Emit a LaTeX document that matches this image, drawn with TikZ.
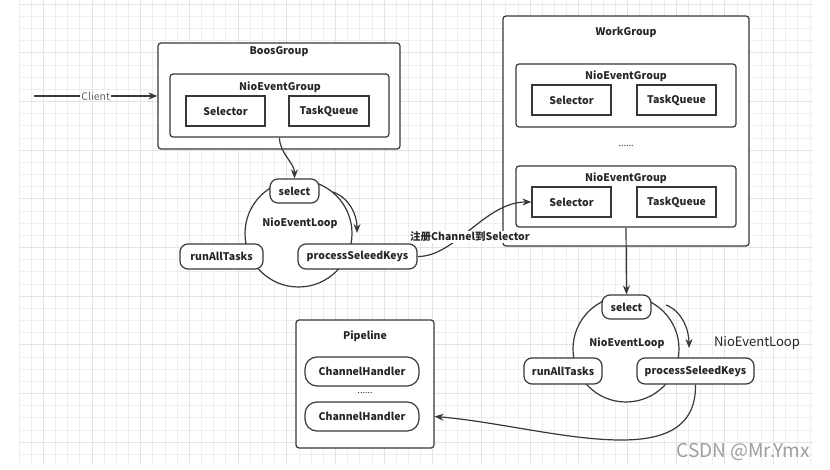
\documentclass[tikz,border=0pt]{standalone}
\usepackage{fontspec}
\setmainfont{Noto Sans CJK SC}
\usetikzlibrary{arrows.meta}
\newcommand\lblfont{\fontsize{10.5}{12}\selectfont\bfseries}
\tikzset{
  ln/.style={draw=black!78, line width=1.2pt},
  grp/.style={ln, rectangle, rounded corners=3pt, fill=white, inner sep=0pt},
  cell/.style={ln, rectangle, fill=white, inner sep=0pt, font=\lblfont, text=black!85},
  pill/.style={ln, rectangle, rounded corners=8pt, fill=white, inner sep=0pt, font=\lblfont, text=black!85},
  ttl/.style={font=\lblfont, inner sep=0pt, text=black!85},
  loopc/.style={ln, circle, fill=white, inner sep=0pt},
  arr/.style={draw=black!78, line width=1.2pt, -{Stealth[length=9pt,width=7pt]}},
  gridlight/.style={draw=gray!13, line width=0.8pt},
  griddark/.style={draw=gray!22, line width=0.8pt},
}
\begin{document}
\begin{tikzpicture}[x=1pt,y=-1pt]
\useasboundingbox (0,0) rectangle (830,470);
\fill[white] (0,0) rectangle (830,470);
% background grid
\begin{scope}
  \clip (19,0) rectangle (813,463);
  \foreach \i in {0,...,66} \draw[gridlight] ({19+12.17*\i},0) -- ++(0,470);
  \foreach \i in {0,...,38} \draw[gridlight] (0,{4.1+12.17*\i}) -- ++(830,0);
  \foreach \i in {0,...,16} \draw[griddark] ({43.3+48.68*\i},0) -- ++(0,470);
  \foreach \i in {0,...,9} \draw[griddark] (0,{4.1+48.68*\i}) -- ++(830,0);
\end{scope}

% BoosGroup
\node[grp, minimum width=242, minimum height=106] (boos) at (279,96) {};
\node[ttl] (boost) at (279,52) {BoosGroup};
\node[grp, minimum width=219, minimum height=63] (boosin) at (279.5,105.5) {};
\node[ttl] (boosint) at (280,87) {NioEventGroup};
\node[cell, minimum width=79, minimum height=30] (bsel) at (225.5,111) {Selector};
\node[cell, minimum width=80, minimum height=30] (btq) at (329,111) {TaskQueue};

% Client
\coordinate (client) at (34,96);

% Loop 1
\node[loopc, minimum size=107] (loop1) at (298.5,233.5) {};
\node[ttl] (loop1t) at (300,223) {NioEventLoop};
\node[pill, minimum width=49, minimum height=24] (sel1) at (294.5,191) {select};
\node[pill, minimum width=83, minimum height=25] (run1) at (221.5,256.5) {runAllTasks};
\node[pill, minimum width=119, minimum height=25] (proc1) at (357.5,256.5) {processSeleedKeys};
\coordinate (c1a) at (333,192);
\coordinate (c1b) at (357,233);

% WorkGroup
\node[grp, minimum width=246, minimum height=230] (work) at (626,131) {};
\node[ttl] (workt) at (626,32) {WorkGroup};
\node[grp, minimum width=220, minimum height=63] (win1) at (626,95.5) {};
\node[ttl] (win1t) at (626,76) {NioEventGroup};
\node[cell, minimum width=79, minimum height=30] (wsel1) at (571.5,100) {Selector};
\node[cell, minimum width=79, minimum height=30] (wtq1) at (676.5,100) {TaskQueue};
\node[ttl, font=\fontsize{9}{10}\selectfont] (wdots) at (626,146) {......};
\node[grp, minimum width=220, minimum height=61] (win2) at (626,196.5) {};
\node[ttl] (win2t) at (626,178) {NioEventGroup};
\node[cell, minimum width=79, minimum height=30] (wsel2) at (571.5,202) {Selector};
\node[cell, minimum width=79, minimum height=30] (wtq2) at (676.5,202) {TaskQueue};

% Loop 2
\node[loopc, minimum size=106] (loop2) at (626,349) {};
\node[ttl] (loop2t) at (627,343) {NioEventLoop};
\node[pill, minimum width=49, minimum height=24] (sel2) at (626.5,307) {select};
\node[pill, minimum width=78, minimum height=26] (run2) at (563,371) {runAllTasks};
\node[pill, minimum width=117, minimum height=26] (proc2) at (695.5,371) {processSeleedKeys};
\coordinate (c2a) at (666,305);
\coordinate (c2b) at (689,348);
\node[inner sep=0pt, text=black!85, font=\fontsize{13}{15}\selectfont] (bigloop) at (757,343) {NioEventLoop};

% Pipeline
\node[grp, minimum width=138, minimum height=128] (pipe) at (365,384) {};
\node[ttl] (pipet) at (365,336) {Pipeline};
\node[pill, rounded corners=12pt, minimum width=114, minimum height=29] (ch1) at (362,371.5) {ChannelHandler};
\node[ttl, font=\fontsize{9}{10}\selectfont] (pdots) at (365,393) {......};
\node[pill, rounded corners=12pt, minimum width=114, minimum height=29] (ch2) at (362,416.5) {ChannelHandler};

% Connectors
\draw[arr] (client) -- node[fill=white, inner sep=1pt, text=black!60, font=\fontsize{10.5}{12}\selectfont] (clientl) {Client} (boos.west);
\draw[arr] (boosin.south) .. controls +(0,16) and +(0,-16) .. (sel1.north);
\draw[arr] (c1a) .. controls (349,198) and (357,214) .. (c1b);
\draw[arr] (proc1.east) .. controls (455,257) and (485,202) .. (wsel2.west);
\node[fill=white, inner sep=1pt, font=\lblfont, text=black!85] (reglbl) at (470,237) {注册Channel到Selector};
\draw[arr] (win2.south) -- (sel2.north);
\draw[arr] (c2a) .. controls (682,311) and (689,330) .. (c2b);
\draw[arr] (proc2.south) .. controls (697,480) and (540,425) .. (pipe.east |- ch2.east);

% watermark
\node[inner sep=0pt, text=gray!75, font=\fontsize{19}{22}\selectfont] (wm) at (743,452) {CSDN @Mr.Ymx};
\end{tikzpicture}
\end{document}
